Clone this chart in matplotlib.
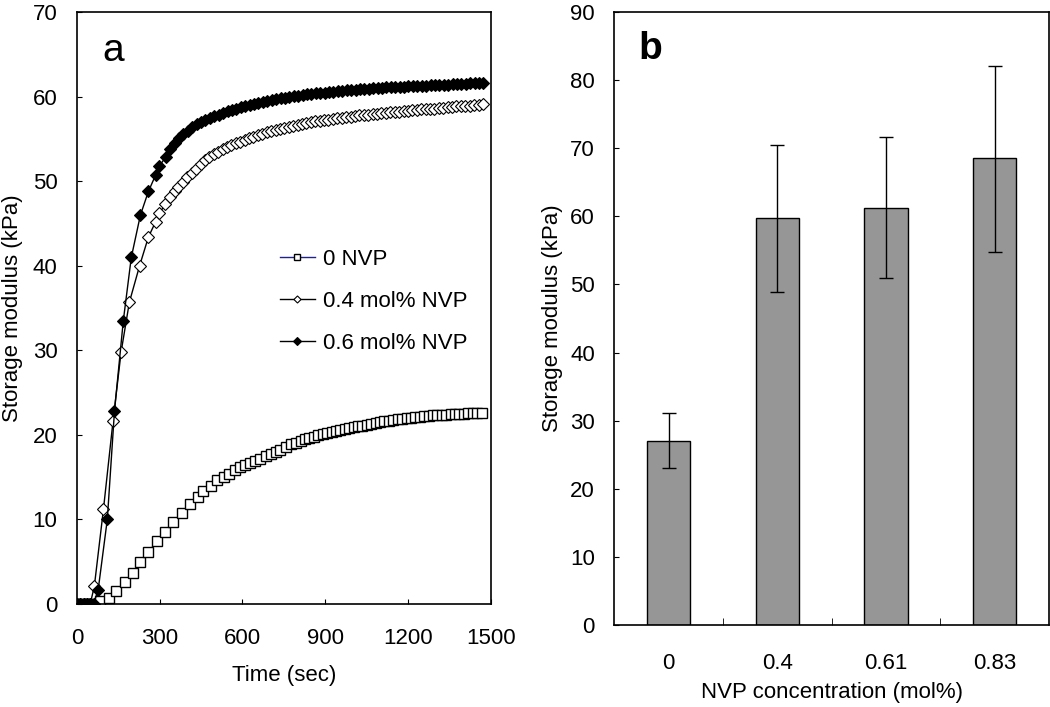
import numpy as np
import matplotlib.pyplot as plt

plt.rcParams['font.family'] = ['Liberation Sans', 'DejaVu Sans']

# panel a: storage modulus vs time
t_0 = [0, 14, 28, 42, 56, 84, 116, 142, 173, 203, 230, 259, 291, 320, 350,
       381, 409, 438, 458, 485, 509, 533, 553, 572, 591, 609, 627, 645, 665, 684,
       702, 720, 735, 758, 776, 794, 812, 828, 843, 859, 875, 891, 907, 923, 939,
       955, 971, 987, 1003, 1019, 1035, 1051, 1067, 1083, 1099, 1115, 1131, 1147,
       1163, 1179, 1195, 1211, 1227, 1243, 1259, 1275, 1291, 1307, 1323, 1339,
       1355, 1371, 1387, 1403, 1419, 1435, 1451, 1467]
g_0 = [0, 0, 0, 0, 0, 0.35, 0.7, 1.5, 2.6, 3.7, 5.0, 6.2, 7.4, 8.55, 9.7,
       10.8, 11.8, 12.7, 13.4, 13.95, 14.7, 15.0, 15.4, 15.8, 16.2, 16.4, 16.7, 16.9, 17.2, 17.5,
       17.7, 18.0, 18.2, 18.6, 18.9, 19.1, 19.3, 19.5, 19.6, 19.8, 19.95, 20.1, 20.25, 20.4, 20.5,
       20.6, 20.7, 20.8, 20.9, 21.0, 21.1, 21.2, 21.3, 21.4, 21.5, 21.6, 21.7, 21.75,
       21.85, 21.9, 22.0, 22.05, 22.1, 22.15, 22.2, 22.25, 22.3, 22.35, 22.38, 22.4,
       22.45, 22.48, 22.5, 22.52, 22.55, 22.57, 22.6, 22.6]

t_04 = [0, 12, 24, 36, 48, 63, 96, 131, 160, 190, 227, 259, 285, 299, 320, 338, 354, 368,
        384, 400, 416, 432, 448, 464, 480, 496, 512, 528, 544, 560, 576, 592, 608, 624,
        640, 656, 672, 688, 704, 720, 736, 752, 768, 784, 800, 816, 832, 848, 864, 880,
        896, 912, 928, 944, 960, 976, 992, 1008, 1024, 1040, 1056, 1072, 1088, 1104, 1120,
        1136, 1152, 1168, 1184, 1200, 1216, 1232, 1248, 1264, 1280, 1296, 1312, 1328, 1344,
        1360, 1376, 1392, 1408, 1424, 1440, 1456, 1472]
g_04 = [0, 0, 0, 0, 0, 2.1, 11.2, 21.7, 29.8, 35.7, 40.0, 43.4, 45.2, 46.2, 47.3, 48.2, 48.8, 49.3,
        49.9, 50.5, 51.0, 51.5, 52.0, 52.5, 52.9, 53.2, 53.5, 53.8, 54.1, 54.3, 54.5, 54.7, 54.9, 55.1,
        55.3, 55.5, 55.65, 55.8, 55.95, 56.1, 56.2, 56.35, 56.45, 56.6, 56.7, 56.8, 56.9, 57.0, 57.1, 57.15,
        57.25, 57.3, 57.4, 57.45, 57.5, 57.6, 57.65, 57.7, 57.8, 57.85, 57.9, 57.95, 58.0, 58.05, 58.1,
        58.15, 58.2, 58.25, 58.3, 58.35, 58.4, 58.45, 58.5, 58.5, 58.55, 58.6, 58.65, 58.7, 58.75,
        58.8, 58.85, 58.9, 58.9, 58.95, 59.0, 59.05, 59.1]

t_06 = [0, 12, 24, 36, 48, 60, 77, 110, 136, 168, 197, 230, 259, 286, 299, 322,
        338, 354, 370, 386, 402, 418, 434, 450, 466, 482, 498, 514, 530, 546, 562, 578,
        594, 610, 626, 642, 658, 674, 690, 706, 722, 738, 754, 770, 786, 802, 818, 834,
        850, 866, 882, 898, 914, 930, 946, 962, 978, 994, 1010, 1026, 1042, 1058, 1074,
        1090, 1106, 1122, 1138, 1154, 1170, 1186, 1202, 1218, 1234, 1250, 1266, 1282,
        1298, 1314, 1330, 1346, 1362, 1378, 1394, 1410, 1426, 1442, 1458, 1474]
g_06 = [0, 0, 0, 0, 0, 0, 1.7, 10.0, 22.8, 33.5, 41.0, 46.0, 48.8, 50.8, 51.8, 52.9,
        53.8, 54.5, 55.1, 55.6, 56.0, 56.4, 56.75, 57.05, 57.3, 57.5, 57.7, 57.9, 58.1, 58.3, 58.45, 58.6,
        58.75, 58.9, 59.05, 59.2, 59.3, 59.4, 59.5, 59.6, 59.7, 59.8, 59.9, 60.0, 60.1, 60.15, 60.2, 60.3,
        60.35, 60.4, 60.45, 60.5, 60.55, 60.6, 60.65, 60.7, 60.75, 60.8, 60.85, 60.9, 60.9, 60.95, 61.0,
        61.0, 61.05, 61.1, 61.1, 61.15, 61.2, 61.2, 61.25, 61.25, 61.3, 61.3, 61.3, 61.35,
        61.4, 61.4, 61.45, 61.45, 61.5, 61.5, 61.55, 61.55, 61.6, 61.6, 61.6, 61.65]

# panel b: storage modulus vs NVP concentration
conc = ['0', '0.4', '0.61', '0.83']
modulus = [27.0, 59.7, 61.2, 68.5]
err_low = [4.0, 10.8, 10.2, 13.8]
err_high = [4.1, 10.8, 10.5, 13.6]

fig = plt.figure(figsize=(10.5, 7.07), dpi=100)
ax1 = fig.add_axes([0.0733, 0.1457, 0.394, 0.837])
ax2 = fig.add_axes([0.585, 0.116, 0.414, 0.867])

ax1.plot(t_0, g_0, color='#22228a', lw=1, marker='s', ms=6.5, mfc='white',
         mec='black', mew=1, label='0 NVP')
ax1.plot(t_04, g_04, color='black', lw=1, marker='D', ms=6, mfc='white',
         mec='black', mew=0.8, label='0.4 mol% NVP')
ax1.plot(t_06, g_06, color='black', lw=1, marker='D', ms=6.5, mfc='black',
         mec='black', mew=0.8, label='0.6 mol% NVP')

ax1.set_xlim(0, 1500)
ax1.set_ylim(0, 70)
ax1.set_xticks([0, 300, 600, 900, 1200, 1500])
ax1.set_yticks(np.arange(0, 71, 10))
ax1.set_xlabel('Time (sec)', fontsize=16, labelpad=12)
ax1.set_ylabel('Storage modulus (kPa)', fontsize=16, labelpad=7)
ax1.text(0.087, 0.935, 'a', transform=ax1.transAxes, fontsize=28,
         ha='center', va='center')
ax1.legend(loc='upper left', bbox_to_anchor=(0.49, 0.60), frameon=False,
           fontsize=16, handlelength=1.6, labelspacing=0.95, handletextpad=0.35,
           borderpad=0, borderaxespad=0, markerscale=0.6)

ax2.bar(range(len(conc)), modulus, width=0.4, color='#969696', edgecolor='black',
        linewidth=1, yerr=[err_low, err_high], capsize=5,
        error_kw=dict(ecolor='black', elinewidth=1, capthick=1))
ax2.set_xlim(-0.5, 3.5)
ax2.set_ylim(0, 90)
ax2.set_yticks(np.arange(0, 91, 10))
ax2.set_xticks(range(len(conc)))
ax2.set_xticklabels(conc)
ax2.set_xticks([0.5, 1.5, 2.5], minor=True)
ax2.set_xlabel('NVP concentration (mol%)', fontsize=16, labelpad=6)
ax2.set_ylabel('Storage modulus (kPa)', fontsize=16, labelpad=5)
ax2.text(0.083, 0.94, 'b', transform=ax2.transAxes, fontsize=28,
         fontweight='bold', ha='center', va='center')

for ax in (ax1, ax2):
    ax.tick_params(direction='in', labelsize=16, top=False, right=False)
    ax.tick_params(axis='y', pad=14)
    for s in ax.spines.values():
        s.set_linewidth(1.2)
ax1.tick_params(axis='x', pad=17)
ax2.tick_params(axis='x', which='major', length=0, pad=20)
ax2.tick_params(axis='x', which='minor', direction='in', length=5)

fig.savefig('out.png', dpi=100)
